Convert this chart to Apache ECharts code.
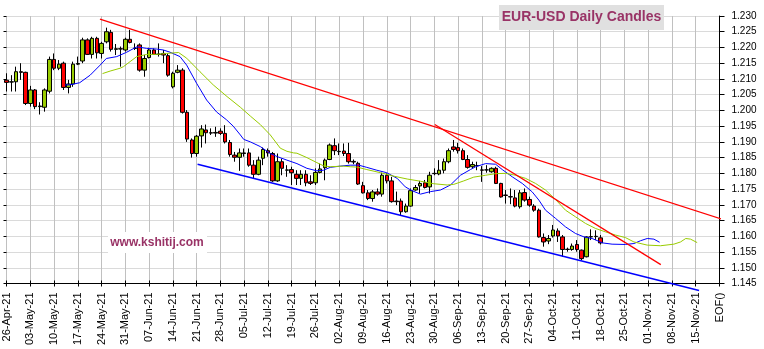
<!DOCTYPE html>
<html>
<head>
<meta charset="utf-8">
<script src="https://cdn.jsdelivr.net/npm/echarts/dist/echarts.min.js"></script>
<style>
html,body{margin:0;padding:0;background:#fff;}
#chart{width:764px;height:349px;}
</style>
</head>
<body>
<div id="chart"></div>
<script>
// Week labels on the time axis (one per Monday, trading-day index step 5)
const weekLabels = ['26-Apr-21','03-May-21','10-May-21','17-May-21','24-May-21','31-May-21','07-Jun-21','14-Jun-21',
  '21-Jun-21','28-Jun-21','05-Jul-21','12-Jul-21','19-Jul-21','26-Jul-21','02-Aug-21','09-Aug-21','16-Aug-21',
  '23-Aug-21','30-Aug-21','06-Sep-21','13-Sep-21','20-Sep-21','27-Sep-21','04-Oct-21','11-Oct-21','18-Oct-21',
  '25-Oct-21','01-Nov-21','08-Nov-21','15-Nov-21','EOF()'];

// Daily EUR-USD candles, one entry per trading day starting 26-Apr-21
const candleOpen = [1.2096,1.2090,1.2091,1.2123,1.2121,1.2022,1.2065,1.2012,1.2010,1.2061,
  1.2162,1.2134,1.2150,1.2073,1.2084,1.2147,1.2157,1.2224,1.2178,1.2229,
  1.2181,1.2218,1.2248,1.2194,1.2196,1.2192,1.2226,1.2198,1.2208,1.2128,
  1.2168,1.2192,1.2178,1.2181,1.2174,1.2075,1.2121,1.2128,1.1994,1.1906,
  1.1863,1.1919,1.1938,1.1929,1.1928,1.1934,1.1927,1.1898,1.1858,1.1851,
  1.1865,1.1865,1.1826,1.1797,1.1848,1.1872,1.1863,1.1776,1.1837,1.1810,
  1.1812,1.1797,1.1784,1.1797,1.1773,1.1770,1.1803,1.1818,1.1844,1.1888,
  1.1869,1.1871,1.1863,1.1838,1.1832,1.1761,1.1738,1.1720,1.1741,1.1734,
  1.1794,1.1776,1.1712,1.1712,1.1678,1.1696,1.1747,1.1760,1.1770,1.1757,
  1.1799,1.1798,1.1810,1.1837,1.1884,1.1882,1.1872,1.1844,1.1821,1.1824,
  1.1811,1.1811,1.1805,1.1816,1.1768,1.1731,1.1726,1.1722,1.1694,1.1739,
  1.1717,1.1696,1.1683,1.1596,1.1585,1.1601,1.1617,1.1598,1.1559,1.1558,
  1.1574,1.1556,1.1535,1.1598,1.1599,1.1595];
const candleClose = [1.2089,1.2091,1.2123,1.2121,1.2022,1.2065,1.2012,1.2014,1.2065,1.2162,
  1.2134,1.2147,1.2073,1.2084,1.2147,1.2149,1.2224,1.2178,1.2229,1.2183,
  1.2213,1.2250,1.2194,1.2196,1.2195,1.2226,1.2216,1.2197,1.2128,1.2165,
  1.2192,1.2178,1.2179,1.2176,1.2112,1.2118,1.2128,1.1994,1.1909,1.1863,
  1.1918,1.1941,1.1929,1.1928,1.1930,1.1927,1.1900,1.1860,1.1851,1.1865,
  1.1863,1.1826,1.1797,1.1842,1.1876,1.1865,1.1776,1.1837,1.1816,1.1811,
  1.1802,1.1784,1.1797,1.1770,1.1768,1.1803,1.1814,1.1842,1.1890,1.1872,
  1.1870,1.1863,1.1837,1.1836,1.1766,1.1738,1.1720,1.1741,1.1734,1.1794,
  1.1776,1.1710,1.1710,1.1678,1.1696,1.1745,1.1755,1.1768,1.1755,1.1794,
  1.1800,1.1810,1.1837,1.1872,1.1876,1.1872,1.1844,1.1819,1.1828,1.1825,
  1.1810,1.1811,1.1816,1.1768,1.1725,1.1730,1.1725,1.1696,1.1738,1.1715,
  1.1699,1.1683,1.1598,1.1582,1.1593,1.1620,1.1601,1.1558,1.1558,1.1569,
  1.1558,1.1529,1.1598,1.1599,1.1600,1.1579];
const candleLow = [1.2060,1.2060,1.2060,1.2097,1.2017,1.2012,1.2004,1.1987,1.1996,1.2054,
  1.2128,1.2128,1.2065,1.2054,1.2075,1.2144,1.2150,1.2176,1.2165,1.2165,
  1.2165,1.2213,1.2187,1.2176,1.2139,1.2187,1.2213,1.2192,1.2123,1.2107,
  1.2165,1.2176,1.2171,1.2150,1.2107,1.2070,1.2118,1.1990,1.1900,1.1850,
  1.1853,1.1882,1.1895,1.1922,1.1916,1.1922,1.1895,1.1853,1.1837,1.1808,
  1.1853,1.1821,1.1784,1.1794,1.1826,1.1853,1.1773,1.1773,1.1794,1.1789,
  1.1763,1.1763,1.1763,1.1759,1.1763,1.1763,1.1800,1.1778,1.1842,1.1858,
  1.1858,1.1855,1.1831,1.1829,1.1763,1.1736,1.1715,1.1710,1.1729,1.1726,
  1.1768,1.1707,1.1699,1.1667,1.1675,1.1694,1.1745,1.1736,1.1752,1.1736,
  1.1794,1.1794,1.1800,1.1832,1.1869,1.1863,1.1842,1.1815,1.1816,1.1810,
  1.1773,1.1802,1.1802,1.1766,1.1723,1.1704,1.1702,1.1692,1.1688,1.1710,
  1.1694,1.1678,1.1596,1.1567,1.1575,1.1596,1.1582,1.1535,1.1551,1.1554,
  1.1551,1.1524,1.1533,1.1588,1.1588,1.1574];
const candleHigh = [1.2118,1.2112,1.2139,1.2150,1.2123,1.2078,1.2068,1.2026,1.2070,1.2171,
  1.2181,1.2160,1.2155,1.2097,1.2155,1.2171,1.2231,1.2229,1.2234,1.2234,
  1.2218,1.2263,1.2256,1.2211,1.2203,1.2231,1.2256,1.2213,1.2213,1.2176,
  1.2199,1.2197,1.2213,1.2192,1.2181,1.2123,1.2144,1.2134,1.2001,1.1911,
  1.1922,1.1953,1.1955,1.1943,1.1948,1.1943,1.1953,1.1906,1.1868,1.1879,
  1.1879,1.1879,1.1842,1.1853,1.1882,1.1879,1.1868,1.1863,1.1847,1.1826,
  1.1821,1.1810,1.1810,1.1810,1.1794,1.1816,1.1831,1.1847,1.1895,1.1911,
  1.1895,1.1895,1.1897,1.1844,1.1837,1.1773,1.1747,1.1747,1.1752,1.1802,
  1.1800,1.1789,1.1742,1.1720,1.1704,1.1752,1.1763,1.1776,1.1779,1.1805,
  1.1816,1.1842,1.1847,1.1879,1.1906,1.1897,1.1879,1.1858,1.1837,1.1837,
  1.1823,1.1826,1.1819,1.1821,1.1770,1.1747,1.1752,1.1747,1.1747,1.1752,
  1.1726,1.1702,1.1688,1.1609,1.1604,1.1636,1.1625,1.1604,1.1564,1.1577,
  1.1588,1.1558,1.1600,1.1622,1.1619,1.1604];

// Short moving average (blue), [day index, price]
const fastAvg = [[12.3,1.2081],[13.3,1.2081],[15.4,1.2088],[17.6,1.2112],[19.7,1.2144],[21,1.2165],
  [23.2,1.2171],[25.3,1.2185],[27.4,1.2202],[29.5,1.2197],[31.6,1.2195],[33,1.2192],[34.4,1.2185],
  [36.5,1.2171],[37.9,1.2144],[40,1.2086],[42.1,1.2033],[44.2,1.1995],[46.3,1.1970],[47.7,1.1950],
  [49.2,1.1922],[49.9,1.1908],[51.3,1.1900],[53.4,1.1885],[55.5,1.1863],[57,1.1853],[59,1.1842],
  [61.1,1.1831],[63.2,1.1816],[65.3,1.1808],[66.7,1.1810],[68.1,1.1819],[70.2,1.1823],[72.3,1.1826],
  [74.1,1.1826],[75.8,1.1819],[77.9,1.1810],[80,1.1802],[82.2,1.1784],[83.9,1.1757],[85.3,1.1745],
  [87.1,1.1734],[89.2,1.1742],[91.3,1.1747],[93.4,1.1763],[95.5,1.1794],[97.6,1.1812],[98.7,1.1821],
  [100.8,1.1831],[102.9,1.1829],[104.3,1.1812],[106.4,1.1789],[108.5,1.1768],[110.6,1.1741],
  [112,1.1715],[113.4,1.1683],[115.5,1.1657],[117.6,1.1630],[119.7,1.1609],[121.5,1.1598],
  [123.2,1.1593],[125.4,1.1579],[127.4,1.1575],[130.2,1.1574],[132,1.1577],[133.4,1.1586],
  [134.8,1.1593],[136.2,1.1591],[137.4,1.1581]];

// Longer moving average (yellow-green), [day index, price]
const slowAvg = [[20.2,1.2117],[21.8,1.2125],[23.9,1.2134],[24.6,1.2139],[26,1.2155],[27.4,1.2171],
  [29.5,1.2178],[31.6,1.2178],[33.7,1.2181],[36.2,1.2184],[37.9,1.2166],[40.7,1.2123],[43.5,1.2081],
  [46.4,1.2044],[49.2,1.2010],[51.3,1.1982],[53.4,1.1955],[55.5,1.1922],[57.6,1.1880],[59,1.1870],
  [60.4,1.1865],[61.1,1.1864],[63.2,1.1850],[65.3,1.1834],[66.7,1.1824],[68.1,1.1821],[70.9,1.1823],
  [72.3,1.1821],[73.7,1.1820],[75.8,1.1812],[78.7,1.1802],[81.5,1.1791],[84.3,1.1782],[87.1,1.1775],
  [89.9,1.1767],[92.7,1.1763],[94.1,1.1765],[96.2,1.1776],[98.3,1.1788],[100.8,1.1794],[102.9,1.1799],
  [105,1.1800],[107.1,1.1794],[109.2,1.1784],[111.3,1.1768],[113.4,1.1747],[115.5,1.1717],
  [117.6,1.1683],[119.7,1.1662],[121.8,1.1641],[123.9,1.1625],[126,1.1614],[128.1,1.1604],
  [130.2,1.1596],[132,1.1582],[134.8,1.1572],[137.6,1.1570],[140.4,1.1575],[141.8,1.1582],
  [142.9,1.1593],[143.9,1.1591],[145.3,1.1580]];

// Hand-drawn trend lines, [day index, price] end points
const upperTrend = [[19.66,1.2290],[159.6,1.1610]];
const steepTrend = [[90.1,1.1955],[137.65,1.1510]];
const lowerTrend = [[40.2,1.1829],[145.7,1.1428]];

const candles = candleOpen.map((o, i) => [i, o, candleClose[i], candleLow[i], candleHigh[i]]);

const FONT = '"Liberation Sans", Arial, sans-serif';
const chart = echarts.init(document.getElementById('chart'), null, {renderer: 'canvas'});

chart.setOption({
  animation: false,
  backgroundColor: '#fff',
  grid: {left: 6.5, right: 44.5, top: 16, bottom: 65.5, containLabel: false, outerBoundsMode: 'none'},
  xAxis: [{
    type: 'value', min: 0, max: 150, interval: 5,
    axisLine: {show: true, onZero: false, lineStyle: {color: '#000', width: 1}},
    axisTick: {show: true, length: 3, lineStyle: {color: '#000'}},
    axisLabel: {rotate: 90, margin: 9, fontSize: 11, color: '#000', fontFamily: FONT,
      formatter: v => weekLabels[Math.round(v / 5)] || ''},
    splitLine: {show: true, lineStyle: {color: '#c0c0c0', width: 1}}
  }, {
    type: 'value', min: 0, max: 150, interval: 5, position: 'bottom',
    axisLine: {show: false}, axisLabel: {show: false}, splitLine: {show: false},
    axisTick: {show: true, inside: true, length: 3, lineStyle: {color: '#000'}}
  }],
  yAxis: [{
    type: 'value', position: 'right', min: 1.145, max: 1.230, interval: 0.005,
    axisLine: {show: true, onZero: false, lineStyle: {color: '#000', width: 1}},
    axisTick: {show: true, length: 5, lineStyle: {color: '#000'}},
    axisLabel: {margin: 12, fontSize: 10, color: '#000', fontFamily: FONT,
      formatter: v => v.toFixed(3)},
    splitLine: {show: true, lineStyle: {color: '#dadada', width: 1}}
  }, {
    type: 'value', position: 'right', min: 1.145, max: 1.230, interval: 0.005,
    axisLine: {show: false}, axisLabel: {show: false}, splitLine: {show: false},
    axisTick: {show: true, inside: true, length: 3, lineStyle: {color: '#000'}}
  }],
  series: [{
    type: 'candlestick',
    data: candles,
    encode: {x: 0, y: [1, 2, 3, 4]},
    barWidth: 4,
    clip: false,
    itemStyle: {color: '#99cc00', color0: '#ff0000', borderColor: '#000', borderColor0: '#000', borderWidth: 1},
    z: 2
  }, {
    type: 'line', data: fastAvg, symbol: 'none', showSymbol: false,
    lineStyle: {color: '#0000ff', width: 1}, z: 3
  }, {
    type: 'line', data: slowAvg, symbol: 'none', showSymbol: false,
    lineStyle: {color: '#99cc00', width: 1}, z: 3
  }, {
    type: 'line', data: upperTrend, symbol: 'none', showSymbol: false, clip: false,
    lineStyle: {color: '#ff0000', width: 1.2}, z: 4
  }, {
    type: 'line', data: steepTrend, symbol: 'none', showSymbol: false, clip: false,
    lineStyle: {color: '#ff0000', width: 1.2}, z: 4
  }, {
    type: 'line', data: lowerTrend, symbol: 'none', showSymbol: false, clip: false,
    lineStyle: {color: '#0000ff', width: 1.5}, z: 4
  }],
  graphic: [{
    type: 'rect', shape: {x: 499, y: 5, width: 165, height: 25},
    style: {fill: '#e0e0e0'}, z: 20
  }, {
    type: 'text', x: 581.5, y: 17.5, z: 21,
    style: {text: 'EUR-USD Daily Candles', fill: '#993366', font: 'bold 14px ' + FONT,
      align: 'center', verticalAlign: 'middle'}
  }, {
    type: 'rect', shape: {x: 108, y: 232, width: 99, height: 21},
    style: {fill: '#ffffff'}, z: 20
  }, {
    type: 'text', x: 157, y: 243, z: 21,
    style: {text: 'www.kshitij.com', fill: '#993366', font: 'bold 12px ' + FONT,
      align: 'center', verticalAlign: 'middle'}
  }]
});
</script>
</body>
</html>
